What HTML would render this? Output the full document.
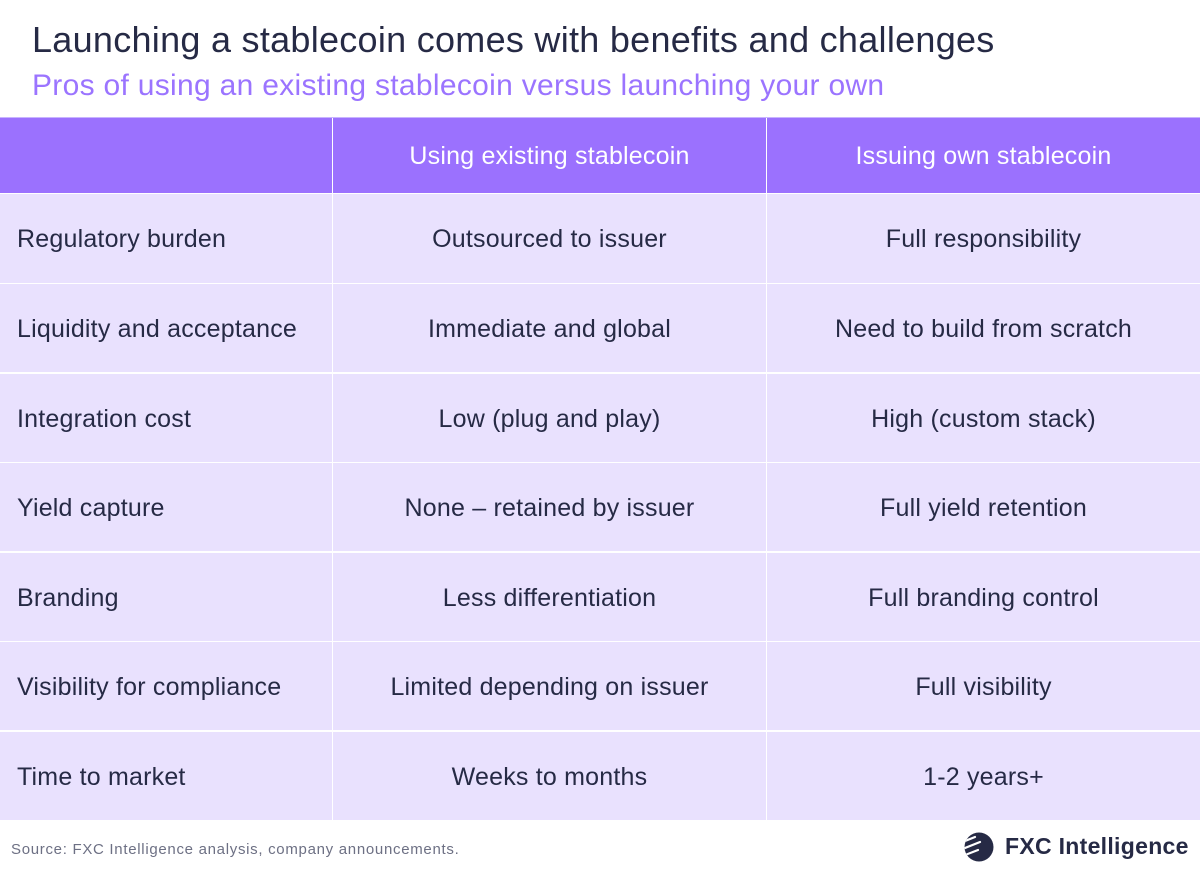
<!DOCTYPE html>
<html>
<head>
<meta charset="utf-8">
<style>
  html, body { margin:0; padding:0; }
  body { width:1200px; height:875px; background:#ffffff; position:relative; overflow:hidden;
         font-family:"Liberation Sans", "DejaVu Sans", sans-serif; color:#262a45; }
  .abs { position:absolute; white-space:nowrap; }
  .title { left:32px; top:22px; font-size:36px; line-height:36px; letter-spacing:0.28px; color:#262a45; }
  .subtitle { left:32px; top:71px; font-size:30px; line-height:30px; letter-spacing:0.3px; color:#9b74ff; }
  .topline { position:absolute; left:0; top:117px; width:1200px; height:1px; background:#c8b4ff; }
  .table { position:absolute; left:0; top:118px; width:1200px; height:703px; background:#ffffff;
           display:grid; grid-template-columns:332px 433px 433px; column-gap:1px;
           grid-template-rows:75px repeat(7, 88.2px); row-gap:1.4px; }
  .cell { background:#e9e1fe; display:flex; align-items:center; justify-content:center;
          font-size:25px; letter-spacing:0.2px; color:#262a45; white-space:nowrap; padding-top:3px; box-sizing:border-box; }
  .cell.first { justify-content:flex-start; padding-left:17px; }
  .cell.head { background:#9b71fe; color:#ffffff; padding-top:2px; }
  .source { left:11px; top:842px; font-size:15px; line-height:15px; letter-spacing:0.7px; color:#6d7084; }
  .logotext { left:1005px; top:835px; font-size:23px; line-height:23px; font-weight:bold; color:#262a45; letter-spacing:0.3px; }
</style>
</head>
<body>
  <div class="abs title">Launching a stablecoin comes with benefits and challenges</div>
  <div class="abs subtitle">Pros of using an existing stablecoin versus launching your own</div>

  <div class="topline"></div>
  <div class="table">
    <div class="cell head first"></div>
    <div class="cell head">Using existing stablecoin</div>
    <div class="cell head">Issuing own stablecoin</div>

    <div class="cell first">Regulatory burden</div>
    <div class="cell">Outsourced to issuer</div>
    <div class="cell">Full responsibility</div>

    <div class="cell first">Liquidity and acceptance</div>
    <div class="cell">Immediate and global</div>
    <div class="cell">Need to build from scratch</div>

    <div class="cell first">Integration cost</div>
    <div class="cell">Low (plug and play)</div>
    <div class="cell">High (custom stack)</div>

    <div class="cell first">Yield capture</div>
    <div class="cell">None – retained by issuer</div>
    <div class="cell">Full yield retention</div>

    <div class="cell first">Branding</div>
    <div class="cell">Less differentiation</div>
    <div class="cell">Full branding control</div>

    <div class="cell first">Visibility for compliance</div>
    <div class="cell">Limited depending on issuer</div>
    <div class="cell">Full visibility</div>

    <div class="cell first">Time to market</div>
    <div class="cell">Weeks to months</div>
    <div class="cell">1-2 years+</div>
  </div>

  <div class="abs source">Source: FXC Intelligence analysis, company announcements.</div>

  <svg class="abs" style="left:962px; top:830px;" width="34" height="34" viewBox="0 0 34 34">
    <defs>
      <clipPath id="c"><circle cx="17" cy="17" r="14.5"/></clipPath>
    </defs>
    <circle cx="17" cy="17" r="14.5" fill="#262a45"/>
    <g clip-path="url(#c)" stroke="#ffffff" stroke-width="2.2" stroke-linecap="round">
      <line x1="-2" y1="13" x2="13" y2="7"/>
      <line x1="-2" y1="20" x2="18" y2="12"/>
      <line x1="-2" y1="27" x2="16" y2="20"/>
    </g>
  </svg>
  <div class="abs logotext">FXC Intelligence</div>
</body>
</html>
